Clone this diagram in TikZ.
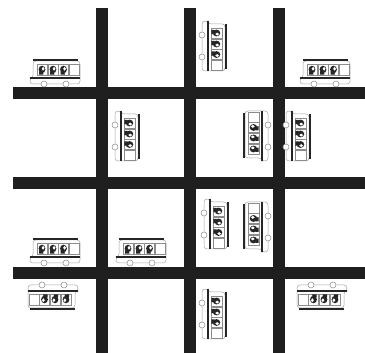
\documentclass[tikz,border=0pt]{standalone}
\tikzset{
  road/.style={line width=11.5pt,draw=black!88},
  busbar/.style={line width=1.4pt,draw=black!85},
  shell/.style={line width=.5pt,draw=black!35,fill=white,rounded corners=3pt},
  pane/.style={line width=.5pt,draw=black!45,fill=white},
  wheel/.style={line width=.5pt,draw=black!45,fill=white},
  head/.style={fill=black!85,draw=none}
}
\newcommand{\vehicle}[3]{%
  \begin{scope}[x=1pt,y=1pt,shift={(#1pt,{(353-#2)*1pt})},rotate=#3]
    \path[shell] (-25,-6) -- (-25,-12) -- (25,-12) -- (25,11) -- (-22,11) -- (-22,-6) -- cycle;
    \draw[busbar] (-22,12) -- (23,12);
    \draw[busbar] (-25,-6) -- (25,-6);
    \foreach \a/\b in {-18/-8,-7/3,3.5/13.5,14/24}{
      \path[pane] (\a,-3) rectangle (\b,8);
    }
    \foreach \c in {-13,-2,8.5}{
      \fill[head] (\c,2.5) ellipse (3.4pt and 3.8pt);
      \fill[white] (\c+1.1,3.2) ellipse (1.5pt and 1.9pt);
      \fill[head] (\c-3,-2.6) -- (\c+1.5,-2.6) -- (\c+.5,.5) -- (\c-3,.5) -- cycle;
    }
    \path[wheel] (-11,-12) circle (3pt);
    \path[wheel] (11,-12) circle (3pt);
  \end{scope}
}
\begin{document}
\begin{tikzpicture}[x=1pt,y=1pt]
  \useasboundingbox (0,0) rectangle (365,353);
  \fill[white] (0,0) rectangle (365,353);
  \draw[road] (13,260) -- (365,260);
  \draw[road] (13,170) -- (365,170);
  \draw[road] (13,80) -- (365,80);
  \draw[road] (102,345) -- (102,0);
  \draw[road] (190,345) -- (190,0);
  \draw[road] (279,345) -- (279,0);
  % buses travelling right
  \vehicle{55}{72}{0}
  \vehicle{325}{72}{0}
  \vehicle{55}{251}{0}
  \vehicle{141}{251}{0}
  % buses travelling left
  \vehicle{53}{297}{180}
  \vehicle{322}{297}{180}
  % buses travelling down
  \vehicle{214}{46}{-90}
  \vehicle{127}{136}{-90}
  \vehicle{298}{136}{-90}
  \vehicle{216}{224}{-90}
  \vehicle{214}{314}{-90}
  % buses travelling up
  \vehicle{256}{136}{90}
  \vehicle{256}{227}{90}
\end{tikzpicture}
\end{document}
